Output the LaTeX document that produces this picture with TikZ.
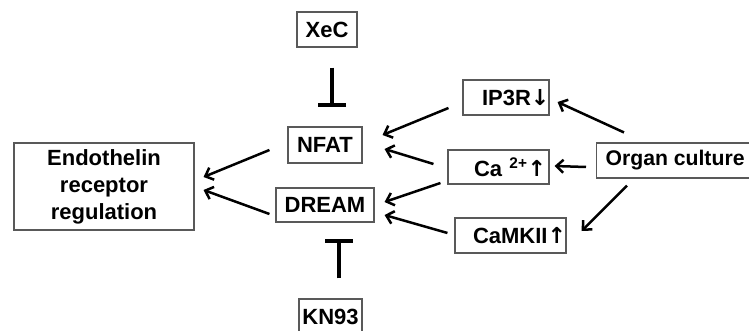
\documentclass[tikz,border=0pt]{standalone}
\usepackage{fontspec}
\setmainfont{Liberation Sans}
\newfontfamily\arrowfont{DejaVu Sans}
\newcommand{\uparr}{{\arrowfont\bfseries ↑}}
\newcommand{\downarr}{{\arrowfont\bfseries ↓}}
\usetikzlibrary{arrows.meta,calc}
\begin{document}
\begin{tikzpicture}[x=1pt,y=-1pt,
  box/.style={draw=black!65,line width=1.1pt,inner sep=0pt,font=\fontsize{22}{27}\selectfont\bfseries,align=center},
  lbox/.style={box,align=left},
  arr/.style={line width=2.5pt,-{Straight Barb[length=7pt,width=13pt,line width=2.5pt]}},
  inh/.style={line width=3.6pt,-{Bar[width=28pt,line width=4pt]}}]
\useasboundingbox (0,0) rectangle (749,331);
\node[box,minimum width=60pt,minimum height=35pt] (xec) at (327,29.5) {XeC};
\node[box,minimum width=74pt,minimum height=36pt] (nfat) at (325,145) {NFAT};
\node[box,minimum width=98pt,minimum height=34pt] (dream) at (325,205) {DREAM};
\node[box,minimum width=63pt,minimum height=35pt] (kn93) at (330.5,316.5) {KN93};
\node[box,text width=180pt,minimum height=87pt] (endo) at (104,186.5) {Endothelin\\receptor\\regulation};
\node[lbox,text width=86pt,minimum height=35pt] (ip3r) at (506,97.5) {\hspace*{19pt}IP3R\downarr};
\node[lbox,text width=101pt,minimum height=34pt] (ca) at (498.5,167) {\hspace*{26pt}Ca \textsuperscript{2+}\uparr};
\node[lbox,text width=111pt,minimum height=35pt] (camk) at (510.5,235.5) {\hspace*{18pt}CaMKII\uparr};
\node[box,inner xsep=9pt,minimum height=35pt,anchor=west,font=\fontsize{21.2}{27}\selectfont\bfseries] (organ) at (596,160.5) {Organ culture};
% activating arrows
\draw[arr] ($(nfat.west)+(-18,5)$) -- ($(endo.east)+(9,-9.5)$);
\draw[arr] ($(dream.west)+(-6,9)$) -- ($(endo.east)+(9,3.5)$);
\draw[arr] ($(ip3r.west)+(-14,10.5)$) -- ($(nfat.east)+(20,-10)$);
\draw[arr] ($(ca.west)+(-14,-3)$) -- ($(nfat.east)+(22,4)$);
\draw[arr] ($(ca.west)+(-7,16)$) -- ($(dream.east)+(10,-3)$);
\draw[arr] ($(camk.west)+(-7,-2.5)$) -- ($(dream.east)+(10,10)$);
\draw[arr] ($(organ.north west)+(28,-10)$) -- ($(ip3r.east)+(8,4.5)$);
\draw[arr] ($(organ.west)+(-10,6.5)$) -- ($(ca.east)+(5,-1)$);
\draw[arr] ($(organ.south west)+(31,7)$) -- ($(camk.east)+(15,-4.5)$);
% inhibitions
\draw[inh] ($(xec.south)+(5,20)$) -- ($(nfat.north)+(7,-19)$);
\draw[inh] ($(kn93.north)+(8.5,-20)$) -- ($(dream.south)+(14,16)$);
\end{tikzpicture}
\end{document}
